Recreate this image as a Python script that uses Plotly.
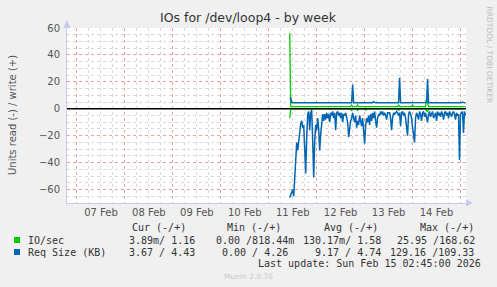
import plotly.graph_objects as go
import pandas as pd

# ---------------- data ----------------
start_time = "2026-02-11 10:30"
step = "30min"

# Req Size (KB): read (drawn negative) / write (drawn positive), 30-minute samples
req_read = [66, 64, 62, 60, 65, 50, 34, 25, 31, 24,
            18, 11, 9, 14, 12, 26, 48, 21, 4, 2,
            16, 3, 1, 24, 51, 24, 12, 16, 7, 15,
            31, 19, 9, 4, 9, 4, 8, 3, 7, 4,
            10, 3, 5, 2, 7, 3, 16, 3, 2, 5,
            3, 7, 3, 10, 4, 5, 3, 7, 10, 21,
            14, 9, 7, 3, 7, 10, 5, 14, 9, 12,
            5, 8, 13, 7, 14, 26, 13, 7, 10, 5,
            12, 4, 9, 3, 7, 2, 9, 14, 7, 4,
            5, 2, 4, 2, 5, 3, 5, 8, 3, 3,
            3, 7, 16, 7, 3, 4, 3, 2, 3, 5,
            3, 13, 3, 2, 5, 3, 7, 15, 20, 4,
            2, 4, 7, 14, 19, 25, 7, 3, 5, 8,
            2, 4, 9, 3, 2, 6, 3, 8, 10, 4,
            2, 6, 3, 2, 7, 4, 3, 9, 2, 5,
            3, 6, 2, 4, 8, 3, 2, 5, 3, 7,
            2, 4, 6, 3, 2, 4, 8, 3, 5, 4,
            38, 4, 3, 2, 18, 2, 5]
req_write = [8.0, 8.0, 4.6, 4.4, 4.4, 4.5, 4.4, 4.4, 4.4, 4.5,
             4.4, 4.4, 4.4, 4.4, 4.5, 4.4, 4.4, 4.4, 4.4, 4.4,
             4.4, 4.4, 4.5, 4.4, 4.4, 4.4, 4.4, 4.4, 4.4, 4.4,
             4.4, 4.4, 4.4, 4.4, 4.4, 4.4, 4.5, 4.4, 4.4, 4.4,
             4.4, 4.4, 4.4, 4.4, 4.4, 4.4, 4.4, 4.4, 4.4, 4.4,
             4.4, 4.4, 4.4, 4.4, 4.4, 4.4, 4.4, 4.4, 4.4, 4.4,
             4.4, 4.4, 4.4, 18.0, 4.4, 4.4, 4.4, 4.4, 4.4, 4.4,
             4.4, 4.4, 4.4, 4.4, 4.4, 4.4, 4.4, 4.4, 4.4, 4.4,
             4.4, 4.4, 4.4, 4.4, 5.2, 4.4, 4.4, 4.4, 4.4, 4.4,
             4.4, 4.4, 4.4, 4.4, 4.4, 4.4, 4.4, 4.4, 4.4, 4.4,
             4.4, 4.4, 4.4, 4.4, 4.4, 4.4, 4.4, 4.4, 4.4, 4.4,
             23.0, 4.4, 4.4, 4.4, 4.4, 4.4, 4.4, 4.4, 4.4, 4.4,
             4.4, 4.4, 4.4, 4.4, 4.4, 4.4, 4.4, 4.4, 4.4, 4.4,
             4.4, 4.4, 4.4, 4.4, 4.4, 4.4, 4.4, 4.6, 22.0, 4.4,
             4.4, 4.4, 4.4, 4.4, 4.4, 4.4, 4.4, 4.4, 4.4, 4.4,
             4.4, 4.4, 4.4, 4.4, 4.4, 4.4, 4.4, 4.4, 4.4, 4.4,
             4.4, 4.4, 4.4, 4.4, 4.4, 4.4, 4.4, 4.4, 4.4, 4.4,
             4.4, 4.4, 4.4, 5.0, 4.4, 4.4, 4.4]

# IO/sec: read (drawn negative) / write (drawn positive), 30-minute samples
io_read = [7.0] + [0.1] * 61 + [1.5] + [0.1] * 5 + [1.5] + [0.1] * 7 + [1.0] \
    + [0.1] * 32 + [1.5] + [0.1] * 27 + [1.5, 2.0] + [0.1] * 38
io_write = [56.0] + [1.6] * 61 + [2.8] + [1.6] * 5 + [2.8] + [1.6] * 40 + [3.0] \
    + [1.6] * 13 + [2.8] + [1.6] * 13 + [8.0, 3.0] + [1.6] * 38

legend_names = ["IO/sec", "Req Size (KB)"]
col_headers = ["Cur (-/+)", "Min (-/+)", "Avg (-/+)", "Max (-/+)"]
io_stats = ["3.89m/ 1.16", "0.00 /818.44m", "130.17m/ 1.58", "25.95 /168.62"]
req_stats = ["3.67 / 4.43", "0.00 / 4.26", "9.17 / 4.74", "129.16 /109.33"]
last_update = "Last update: Sun Feb 15 02:45:00 2026"
title = "IOs for /dev/loop4 - by week"
y_title = "Units read (-) / write (+)"

x_range = ["2026-02-06 19:00", "2026-02-15 02:45"]
y_range = [-70, 60]

# ---------------- figure ----------------
times = pd.date_range(start_time, periods=len(req_read), freq=step)
GREEN = "#00CC00"
BLUE = "#0066B3"

W, H = 497, 287
L, R, T, B = 67, 31, 28, 84
PW, PH = W - L - R, H - T - B


def px(x):
    return (x - L) / PW


def py(y):
    return (H - B - y) / PH


fig = go.Figure()
fig.add_trace(go.Scatter(x=times, y=[-v for v in io_read], mode="lines",
                         line=dict(color=GREEN, width=1.3), hoverinfo="skip"))
fig.add_trace(go.Scatter(x=times, y=io_write, mode="lines",
                         line=dict(color=GREEN, width=1.3), hoverinfo="skip"))
fig.add_trace(go.Scatter(x=times, y=[-v for v in req_read], mode="lines",
                         line=dict(color=BLUE, width=1.5), hoverinfo="skip"))
fig.add_trace(go.Scatter(x=times, y=req_write, mode="lines",
                         line=dict(color=BLUE, width=1.5), hoverinfo="skip"))

grid_minor = "#D8D8D8"
grid_major = "#F0A0A0"
axis_col = "#C8C8F0"

fig.update_layout(
    width=W, height=H,
    margin=dict(l=L, r=R, t=T, b=B),
    paper_bgcolor="#F0F0F0",
    plot_bgcolor="#FFFFFF",
    showlegend=False,
    font=dict(family="DejaVu Sans", size=10, color="#555555"),
    xaxis=dict(
        type="date", range=x_range,
        tick0="2026-02-07 00:00", dtick=86400000,
        ticklabelmode="period", tickformat="%d %b",
        showgrid=True, gridcolor=grid_major, griddash="dot", gridwidth=1,
        minor=dict(dtick=6 * 3600000, showgrid=True, gridcolor=grid_minor,
                   griddash="dot", gridwidth=1),
        showline=True, linecolor=axis_col, linewidth=1,
        ticks="", zeroline=False,
        tickfont=dict(family="DejaVu Sans", size=10, color="#555555"),
    ),
    yaxis=dict(
        range=y_range, tick0=0, dtick=20,
        showgrid=True, gridcolor=grid_major, griddash="dot", gridwidth=1,
        minor=dict(dtick=5, showgrid=True, gridcolor=grid_minor,
                   griddash="dot", gridwidth=1),
        showline=True, linecolor=axis_col, linewidth=1,
        zeroline=False,
        ticks="", ticklabelstandoff=4,
        tickfont=dict(family="DejaVu Sans", size=10, color="#555555"),
    ),
)

# black zero rule drawn above the data (as rrdtool does)
fig.add_shape(type="line", xref="paper", yref="y", x0=0, x1=1, y0=0, y1=0,
              line=dict(color="#000000", width=1.5), layer="above")

# arrows on axes
fig.add_shape(type="path", xref="paper", yref="paper",
              path=f"M {px(63.5)} {py(28)} L {px(70.5)} {py(28)} L {px(67)} {py(20)} Z",
              fillcolor=axis_col, line=dict(width=0))
fig.add_shape(type="path", xref="paper", yref="paper",
              path=f"M {px(466)} {py(199.5)} L {px(466)} {py(206.5)} L {px(473)} {py(203)} Z",
              fillcolor=axis_col, line=dict(width=0))

ann = []
ann.append(dict(text=title, x=px(248.5), y=py(18), xanchor="center", yanchor="middle",
                font=dict(family="DejaVu Sans", size=12.5, color="#333333")))
ann.append(dict(text=y_title, x=px(12), y=py(115), textangle=-90, xanchor="center",
                yanchor="middle", font=dict(family="DejaVu Sans", size=10, color="#555555")))
ann.append(dict(text="RRDTOOL / TOBI OETIKER", x=px(488.5), y=py(55), textangle=90,
                xanchor="center", yanchor="middle",
                font=dict(family="DejaVu Sans", size=7.5, color="#BBBBBB")))

mono = dict(family="DejaVu Sans Mono", size=10, color="#333333")
hdr_right = [188, 283, 380, 476]
for h, xr in zip(col_headers, hdr_right):
    ann.append(dict(text=h.replace(" ", "\u00a0"), x=px(xr), y=py(227), xanchor="right",
                    yanchor="middle", font=mono))
io_right = [197, 296, 383, 477]
req_right = [197, 290, 383, 476]
for s, xr in zip(io_stats, io_right):
    ann.append(dict(text=s.replace(" ", "\u00a0"), x=px(xr), y=py(240), xanchor="right",
                    yanchor="middle", font=mono))
for s, xr in zip(req_stats, req_right):
    ann.append(dict(text=s.replace(" ", "\u00a0"), x=px(xr), y=py(252), xanchor="right",
                    yanchor="middle", font=mono))
for name, yy in zip(legend_names, [240, 252]):
    ann.append(dict(text=name.replace(" ", "\u00a0"), x=px(26), y=py(yy), xanchor="left",
                    yanchor="middle", font=mono))
ann.append(dict(text=last_update.replace(" ", "\u00a0"), x=px(483), y=py(263), xanchor="right",
                yanchor="middle", font=mono))
ann.append(dict(text="Munin 2.0.76", x=px(248), y=py(276), xanchor="center", yanchor="middle",
                font=dict(family="DejaVu Sans", size=7.5, color="#C8C8C8")))
for a in ann:
    a.update(xref="paper", yref="paper", showarrow=False)
fig.update_layout(annotations=ann)

for col, yy in zip([GREEN, BLUE], [240, 252]):
    fig.add_shape(type="rect", xref="paper", yref="paper",
                  x0=px(14), x1=px(20), y0=py(yy + 3), y1=py(yy - 3),
                  fillcolor=col, line=dict(width=0))

fig.write_html("out.html")
